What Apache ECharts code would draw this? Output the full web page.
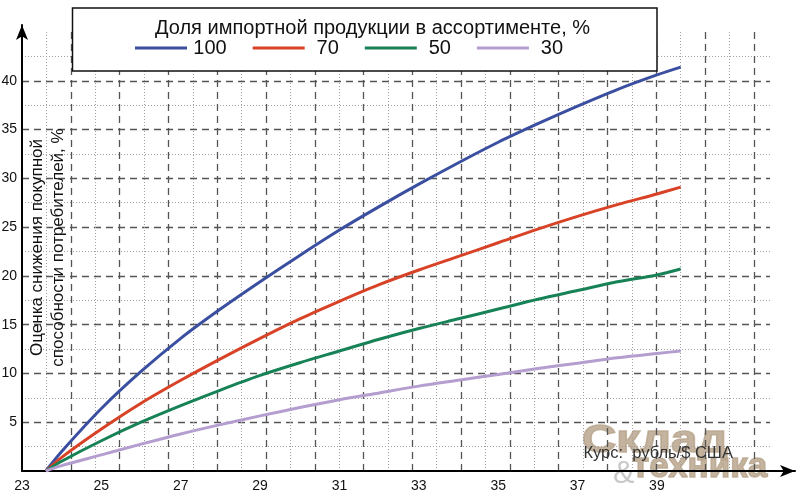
<!DOCTYPE html>
<html>
<head>
<meta charset="utf-8">
<script src="https://cdn.jsdelivr.net/npm/echarts@6/dist/echarts.min.js"></script>
<style>
html,body{margin:0;padding:0;background:#fff;}
#chart{width:800px;height:498px;}
</style>
</head>
<body>
<div id="chart"></div>
<script>
// ---- data ----
const rates   = [23.6, 24, 25, 26, 27, 28, 29, 30, 31, 32, 33, 34, 35, 36, 37, 38, 39, 39.6];
const share100 = [0, 2.0, 6.4, 10.2, 13.6, 16.6, 19.4, 22.1, 24.7, 27.1, 29.4, 31.6, 33.7, 35.6, 37.4, 39.1, 40.6, 41.4];
const share70  = [0, 1.4, 4.3, 6.95, 9.3, 11.5, 13.6, 15.6, 17.4, 19.1, 20.6, 22.0, 23.4, 24.8, 26.1, 27.3, 28.4, 29.1];
const share50  = [0, 1.0, 3.1, 5.0, 6.7, 8.3, 9.8, 11.1, 12.3, 13.5, 14.6, 15.6, 16.6, 17.6, 18.5, 19.4, 20.1, 20.7];
const share30  = [0, 0.55, 1.65, 2.75, 3.8, 4.75, 5.65, 6.5, 7.3, 8.0, 8.7, 9.3, 9.9, 10.5, 11.05, 11.6, 12.05, 12.3];
const seriesNames = ['100', '70', '50', '30'];
const xTickLabels = [23, 25, 27, 29, 31, 33, 35, 37, 39];
const yTickLabels = [5, 10, 15, 20, 25, 30, 35, 40];
const legendTitle = 'Доля импортной продукции в ассортименте, %';
const yTitle = 'Оценка снижения покупной\nспособности потребителей, %';
const xTitle = 'Курс:  рубль/$ США';

// ---- chart ----
const FONT = '"Liberation Sans", Arial, Helvetica, sans-serif';
const colors = ['#3b4fa0', '#d84327', '#168256', '#b49ecf'];
const allValues = [share100, share70, share50, share30];

const chart = echarts.init(document.getElementById('chart'), null, {renderer: 'canvas'});

const dashed = {color: '#555', width: 1.3, type: [7, 5]};
const dotted = {color: '#a0a0a0', width: 1, type: [1, 2]};
const wmColor = 'rgba(184,166,142,0.85)';

const option = {
  backgroundColor: '#fff',
  animation: false,
  textStyle: {fontFamily: FONT},
  title: {
    text: legendTitle,
    left: 150,
    top: 13,
    padding: 5,
    z: 6,
    textStyle: {fontSize: 20, fontWeight: 'normal', color: '#111', fontFamily: FONT}
  },
  legend: {
    data: seriesNames,
    left: 135,
    top: 38,
    padding: 0,
    icon: 'rect',
    itemWidth: 52,
    itemHeight: 3,
    itemGap: 26,
    z: 6,
    formatter: '{a|{name}}',
    textStyle: {
      color: '#111', fontSize: 20, fontFamily: FONT,
      rich: {a: {width: 36, align: 'center', fontSize: 20, color: '#111', fontFamily: FONT}}
    }
  },
  grid: [
    {left: 22, right: 30, top: 32, bottom: 27, containLabel: false, outerBoundsMode: 'none'},
    {left: 22, right: 5, top: 25, bottom: 27, containLabel: false, outerBoundsMode: 'none'}
  ],
  xAxis: [
    {
      type: 'value', gridIndex: 0, min: 23, max: 41.85, interval: 2,
      axisLine: {show: false}, axisTick: {show: false}, splitLine: {show: false},
      axisLabel: {
        color: '#111', fontSize: 14, margin: 8, fontFamily: FONT,
        formatter: v => (xTickLabels.indexOf(v) >= 0 ? String(v) : '')
      }
    },
    {
      // decorative background grid (not tied to the data scale)
      type: 'value', gridIndex: 0, min: 0, max: 30.66, interval: 2, position: 'top',
      axisLine: {show: false}, axisTick: {show: false}, axisLabel: {show: false},
      splitLine: {show: true, showMinLine: false, showMaxLine: false, lineStyle: dashed},
      minorTick: {show: false, splitNumber: 2},
      minorSplitLine: {show: true, lineStyle: dotted}
    },
    {
      type: 'value', gridIndex: 1, min: 0, max: 1,
      axisLine: {show: true, onZero: false, symbol: ['none', 'arrow'], symbolSize: [9, 15], lineStyle: {color: '#000', width: 2}},
      axisTick: {show: false}, axisLabel: {show: false}, splitLine: {show: false}
    }
  ],
  yAxis: [
    {
      type: 'value', gridIndex: 0, min: 0, max: 45, interval: 5,
      axisLine: {show: false}, axisTick: {show: false},
      axisLabel: {
        color: '#111', fontSize: 14, margin: 5, fontFamily: FONT,
        formatter: v => (yTickLabels.indexOf(v) >= 0 ? String(v) : '')
      },
      splitLine: {show: true, showMinLine: false, showMaxLine: false, lineStyle: dashed},
      minorTick: {show: false, splitNumber: 2},
      minorSplitLine: {show: true, lineStyle: dotted}
    },
    {
      type: 'value', gridIndex: 1, min: 0, max: 1,
      axisLine: {show: true, onZero: false, symbol: ['none', 'arrow'], symbolSize: [9, 15], lineStyle: {color: '#000', width: 2}},
      axisTick: {show: false}, axisLabel: {show: false}, splitLine: {show: false}
    }
  ],
  series: seriesNames.map((name, k) => ({
    name: name,
    type: 'line',
    xAxisIndex: 0,
    yAxisIndex: 0,
    data: rates.map((r, i) => [r, allValues[k][i]]),
    smooth: 0.3,
    showSymbol: false,
    symbol: 'none',
    color: colors[k],
    lineStyle: {color: colors[k], width: 3},
    z: 3
  })),
  graphic: [
    {
      type: 'text', z: -1, x: 582, y: 441, scaleX: 1.22,
      style: {text: 'Склад', font: 'bold 39px ' + FONT, fill: wmColor, stroke: wmColor, lineWidth: 1.5, align: 'left', verticalAlign: 'middle'}
    },
    {
      type: 'text', z: -1, x: 613, y: 474,
      style: {text: '&', font: '32px ' + FONT, fill: 'rgba(190,190,190,0.85)', align: 'left', verticalAlign: 'middle'}
    },
    {
      type: 'text', z: -1, x: 632, y: 467,
      style: {text: 'техника', font: 'bold 35px ' + FONT, fill: wmColor, stroke: wmColor, lineWidth: 1.5, align: 'left', verticalAlign: 'middle'}
    },
    {
      type: 'rect', z: 4,
      shape: {x: 72.5, y: 8, width: 584.5, height: 63},
      style: {fill: '#fff', stroke: '#111', lineWidth: 1.5}
    },
    {
      type: 'text', z: 5, x: 47.5, y: 247.5, rotation: Math.PI / 2,
      style: {text: yTitle, font: '17px ' + FONT, fill: '#111', align: 'center', verticalAlign: 'middle', lineHeight: 21}
    },
    {
      type: 'text', z: 5, x: 733, y: 453,
      style: {text: xTitle, font: '16.5px ' + FONT, fill: '#333', align: 'right', verticalAlign: 'middle'}
    }
  ]
};

chart.setOption(option);
</script>
</body>
</html>
